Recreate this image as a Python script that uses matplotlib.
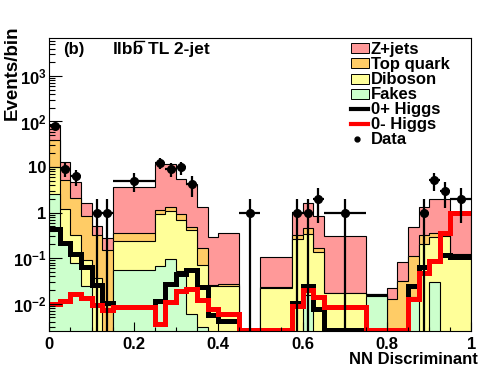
import numpy as np
import matplotlib
matplotlib.use('Agg')
import matplotlib.pyplot as plt
from matplotlib.patches import Rectangle
from matplotlib.lines import Line2D

plt.rcParams['font.family'] = ['Liberation Sans', 'DejaVu Sans']
plt.rcParams['font.weight'] = 'bold'
plt.rcParams['mathtext.fontset'] = 'custom'
plt.rcParams['mathtext.rm'] = 'Liberation Sans:bold'
plt.rcParams['mathtext.bf'] = 'Liberation Sans:bold'
plt.rcParams['mathtext.it'] = 'Liberation Sans:bold:italic'

# ---------------- data ----------------
bin_edges = [0, 0.025, 0.05, 0.075, 0.1, 0.125, 0.15, 0.25, 0.275, 0.3, 0.325,
             0.35, 0.375, 0.4, 0.45, 0.5, 0.575, 0.6, 0.625, 0.65, 0.75, 0.8,
             0.825, 0.85, 0.875, 0.9, 0.925, 0.95, 1.0]

fakes   = [2.6, 0.22, 0.077, 0.025, 0, 0, 0.055, 0.068, 0.094, 0.053, 0.006,
           0.003, 0, 0, 0, 0, 0, 0.0155, 0, 0, 0.015, 0, 0, 0.013, 0, 0.03, 0, 0]
diboson = [7.4, 0.98, 0.25, 0.065, 0.036, 0, 0.185, 0.84, 0.98, 0.63, 0.40,
           0.066, 0.024, 0.024, 0, 0.022, 0.26, 0.325, 0.138, 0.017, 0.0005, 0,
           0, 0.001, 0.2, 0.26, 0.31, 0.12]
topquark = [29, 4.1, 1.72, 0.75, 0.29, 0.15, 0.12, 0.22, 0.23, 0.23, 0.08,
            0.10, 0.002, 0.003, 0, 0.001, 0.06, 0.11, 0.032, 0.0005, 0.0005,
            0.0125, 0.032, 0.099, 0.12, 0.06, 0.02, 0.005]
zjets   = [46, 7.3, 2.55, 0.75, 0.18, 0.13, 3.34, 10.3, 10.1, 4.44, 3.71,
           1.13, 0.264, 0.323, 0, 0.084, 0.68, 1.14, 0.67, 0.29, 0.0005,
           0.0095, 0.051, 0.377, 0.98, 1.6, 1.62, 0.835]

higgs_0p = [0.43, 0.22, 0.123, 0.065, 0.026, 0.0102, 0.0085, 0.0115, 0.027,
            0.045, 0.056, 0.023, 0.0056, 0.0041, 0.0027, 0.0027, 0.0102, 0.0245,
            0.0076, 0.0027, 0.0027, 0.0027, 0.0027, 0.025, 0.065, 0.085, 0.12, 0.105]
higgs_0m = [0.0099, 0.0115, 0.0166, 0.0133, 0.0092, 0.0071, 0.0083, 0.0036,
            0.0107, 0.019, 0.021, 0.012, 0.0075, 0.006, 0.0027, 0.0027, 0.009,
            0.02, 0.0137, 0.0083, 0.0027, 0.0027, 0.0027, 0.0125, 0.048, 0.088,
            0.35, 0.96]

data_x    = [0.0125, 0.0375, 0.0625, 0.1125, 0.1375, 0.2, 0.2625, 0.2875, 0.3125,
             0.3375, 0.475, 0.5875, 0.6125, 0.6375, 0.7, 0.8875, 0.9125, 0.9375, 0.975]
data_xerr = [0.0125, 0.0125, 0.0125, 0.0125, 0.0125, 0.05, 0.0125, 0.0125, 0.0125,
             0.0125, 0.025, 0.0125, 0.0125, 0.0125, 0.05, 0.0125, 0.0125, 0.0125, 0.025]
data_y    = [79, 9, 6.3, 1, 1, 5, 12.5, 9, 9.8, 4.2, 1, 1, 1, 2, 1, 1, 5.2, 3, 2]

legend_labels = ['Z+jets', 'Top quark', 'Diboson', 'Fakes', '0+ Higgs', '0- Higgs', 'Data']
col_z, col_top, col_dib, col_fake = '#ff9999', '#ffcc66', '#ffff99', '#ccffcc'

# ---------------- figure ----------------
W, H = 496, 372
fig = plt.figure(figsize=(W / 100, H / 100), dpi=100)
L, R, T, B = 49.3, 471.3, 37.7, 331.0
ax = fig.add_axes([L / W, 1 - B / H, (R - L) / W, (B - T) / H])

edges = np.array(bin_edges)
base = 1e-6
c1 = np.array(fakes)
c2 = c1 + np.array(diboson)
c3 = c2 + np.array(topquark)
c4 = c3 + np.array(zjets)
for cum, col in [(c4, col_z), (c3, col_top), (c2, col_dib), (c1, col_fake)]:
    ax.stairs(np.maximum(cum, base), edges, fill=True, baseline=base,
              facecolor=col, edgecolor='none')
    ax.stairs(np.maximum(cum, base), edges, fill=False, baseline=base,
              color='black', linewidth=0.8)

ax.stairs(higgs_0p, edges, baseline=None, color='black', linewidth=3.6)
ax.stairs(higgs_0m, edges, baseline=None, color='#ff0000', linewidth=3.6)

dy = np.array(data_y)
err = np.sqrt(dy)
lo = dy - np.maximum(dy - err, 1e-6)
ax.errorbar(data_x, dy, xerr=data_xerr, yerr=[lo, err], fmt='o', color='black',
            markersize=5.5, elinewidth=1.6, capsize=0)

ax.set_yscale('log')
ax.set_xlim(0, 1)
ax.set_ylim(10 ** -2.6, 10 ** 3.84)

ax.set_yticks([1e-2, 1e-1, 1, 10, 1e2, 1e3])
ax.set_yticklabels([r'$\mathbf{10^{-2}}$', r'$\mathbf{10^{-1}}$', '1', '10',
                    r'$\mathbf{10^{2}}$', r'$\mathbf{10^{3}}$'])
ax.yaxis.set_minor_locator(matplotlib.ticker.LogLocator(base=10, subs=np.arange(2, 10), numticks=20))
ax.yaxis.set_minor_formatter(matplotlib.ticker.NullFormatter())
ax.set_xticks([0, 0.2, 0.4, 0.6, 0.8, 1.0])
ax.set_xticklabels(['0', '0.2', '0.4', '0.6', '0.8', '1'])
ax.xaxis.set_minor_locator(matplotlib.ticker.MultipleLocator(0.05))

ax.tick_params(which='both', direction='in', top=False, right=False, width=0.8,
               labelsize=12)
ax.tick_params(axis='y', which='major', length=12.7 * 0.72, pad=2)
ax.tick_params(axis='y', which='minor', length=6.3 * 0.72)
ax.tick_params(axis='x', which='major', length=9 * 0.72, pad=4)
ax.tick_params(axis='x', which='minor', length=4.5 * 0.72)
for s in ax.spines.values():
    s.set_linewidth(0.8)


def P(x, y):
    return x / W, 1 - y / H


fig.text(*P(478, 364.5), 'NN Discriminant', ha='right', va='baseline', fontsize=12)
fig.text(*P(3.3, 25), 'Events/bin', rotation=90, ha='left', va='top', fontsize=13.5)
fig.text(*P(63, 54), '(b)', ha='left', va='baseline', fontsize=12)

# channel label with a bar over the last b
renderer = fig.canvas.get_renderer()
tx, ty = P(113, 54)
t_a = fig.text(tx, ty, 'llb', ha='left', va='baseline', fontsize=12.5)
t_b = fig.text(tx, ty, 'llbb', ha='left', va='baseline', fontsize=12.5)
ea = t_a.get_window_extent(renderer)
eb = t_b.get_window_extent(renderer)
t_a.remove()
fig.text(eb.x1 / W + 4 / W, ty, 'TL 2-jet', ha='left', va='baseline', fontsize=12.5)
bar_y = 1 - 40.5 / H
fig.add_artist(Line2D([(ea.x1 + 1) / W, (eb.x1 - 0.5) / W], [bar_y, bar_y],
                      transform=fig.transFigure, color='black', linewidth=1.0))

# legend
colors = [col_z, col_top, col_dib, col_fake]
for i, lab in enumerate(legend_labels):
    cy = 48.3 + 15.1 * i
    if i < 4:
        x0, y0 = P(350.7, cy + 5)
        fig.add_artist(Rectangle((x0, y0), 18.6 / W, 10 / H, transform=fig.transFigure,
                                 facecolor=colors[i], edgecolor='black', linewidth=0.7))
    elif i < 6:
        xa, ya = P(350.7, cy)
        xb, _ = P(368.3, cy)
        fig.add_artist(Line2D([xa, xb], [ya, ya], transform=fig.transFigure,
                              color='black' if i == 4 else '#ff0000', linewidth=3))
    else:
        xm, ym = P(357, cy)
        fig.add_artist(Line2D([xm], [ym], transform=fig.transFigure, marker='o',
                              color='black', markersize=3.5, linestyle='none'))
    fig.text(*P(370.7, cy + 5.5), lab, ha='left', va='baseline', fontsize=12)

fig.savefig('out.png', dpi=100)
